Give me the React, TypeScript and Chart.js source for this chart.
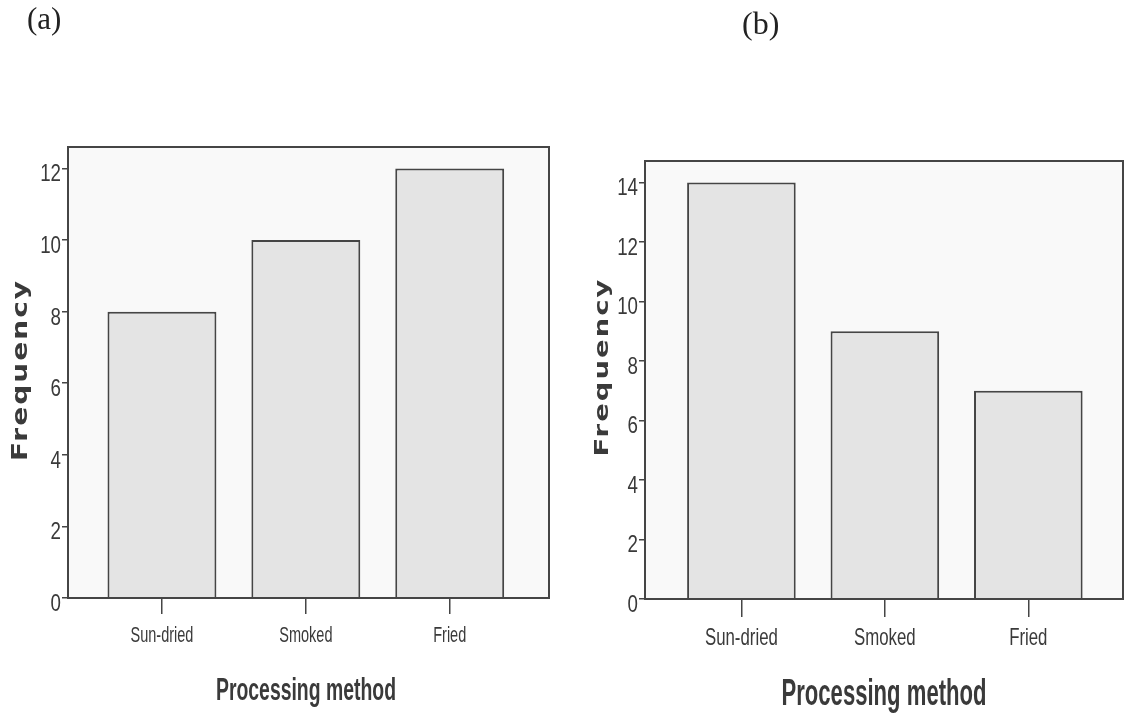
import React, { useEffect, useRef } from "react";
import { Chart, registerables } from "chart.js";

Chart.register(...registerables);

// Bar chart data: count of samples by processing method
const categories = ["Sun-dried", "Smoked", "Fried"];
const frequencyA = [8, 10, 12];
const frequencyB = [14, 9, 7];
const yTicksA = [0, 2, 4, 6, 8, 10, 12];
const yTicksB = [0, 2, 4, 6, 8, 10, 12, 14];
const panelLabels = ["(a)", "(b)"];
const xTitle = "Processing method";
const yTitle = "Frequency";

const INK = "#3a3a3a";
const LINE = "#454545";
const BAR_FILL = "#e4e4e4";
const PLOT_BG = "#f9f9f9";
const SANS = "'Liberation Sans', Arial, sans-serif";

type PanelLayout = {
  width: number;
  height: number;
  plotTop: number;
  plotRight: number;
  yAxisWidth: number;
  xAxisHeight: number;
  xMin: number;
  xMax: number;
  yMax: number;
  yTickSize: number;
  yTickSqueeze: number;
  xTickSize: number;
  xTickSqueeze: number;
  xTickLength: number;
  xLabelDrop: number;
  yTitleX: number;
  yTitleY: number;
  yTitleLen: number;
  yTitleSize: number;
  xTitleX: number;
  xTitleY: number;
  xTitleWidth: number;
  xTitleSize: number;
};

// Draws text condensed (sx < 1) or stretched (sx > 1) along its reading direction
function drawScaledText(
  ctx: CanvasRenderingContext2D,
  text: string,
  x: number,
  y: number,
  align: CanvasTextAlign,
  font: string,
  sx: number
) {
  ctx.save();
  ctx.font = font;
  ctx.translate(x, y);
  ctx.scale(sx, 1);
  ctx.textAlign = align;
  ctx.textBaseline = "alphabetic";
  ctx.fillStyle = INK;
  ctx.fillText(text, 0, 0);
  ctx.restore();
}

function drawFittedText(
  ctx: CanvasRenderingContext2D,
  text: string,
  x: number,
  y: number,
  rotation: number,
  font: string,
  targetWidth: number,
  spacing: number
) {
  ctx.save();
  ctx.font = font;
  (ctx as any).letterSpacing = `${spacing}px`;
  const w = ctx.measureText(text).width;
  ctx.translate(x, y);
  ctx.rotate(rotation);
  ctx.scale(targetWidth / w, 1);
  ctx.textAlign = "center";
  ctx.textBaseline = "alphabetic";
  ctx.fillStyle = INK;
  ctx.fillText(text, spacing / 2, 0);
  ctx.restore();
}

function BarPanel({ values, yTicks, layout }: { values: number[]; yTicks: number[]; layout: PanelLayout }) {
  const ref = useRef<HTMLCanvasElement | null>(null);

  useEffect(() => {
    const canvas = ref.current;
    if (!canvas) return;
    const p = layout;

    const framePlugin = {
      id: "plotFrame",
      beforeDraw(chart: any) {
        const { ctx, chartArea: a } = chart;
        ctx.save();
        ctx.fillStyle = "#ffffff";
        ctx.fillRect(0, 0, chart.width, chart.height);
        ctx.fillStyle = PLOT_BG;
        ctx.fillRect(a.left, a.top, a.right - a.left, a.bottom - a.top);
        ctx.restore();
      },
      afterDatasetsDraw(chart: any) {
        const { ctx, chartArea: a } = chart;
        ctx.save();
        ctx.strokeStyle = LINE;
        ctx.lineWidth = 2;
        ctx.strokeRect(a.left, a.top, a.right - a.left, a.bottom - a.top);
        ctx.restore();
      },
      afterDraw(chart: any) {
        const ctx = chart.ctx as CanvasRenderingContext2D;
        const a = chart.chartArea;
        const xs = chart.scales.x;
        const ys = chart.scales.y;

        // condensed tick labels placed on the scales' tick positions
        xs.ticks.forEach((t: any) => {
          const label = categories[Math.round(t.value)];
          if (label === undefined) return;
          drawScaledText(
            ctx,
            label,
            xs.getPixelForValue(t.value),
            a.bottom + p.xLabelDrop,
            "center",
            `${p.xTickSize}px ${SANS}`,
            p.xTickSqueeze
          );
        });
        ys.ticks.forEach((t: any) => {
          drawScaledText(
            ctx,
            String(t.value),
            a.left - 7,
            ys.getPixelForValue(t.value) + 13,
            "right",
            `${p.yTickSize}px ${SANS}`,
            p.yTickSqueeze
          );
        });

        drawFittedText(
          ctx,
          yTitle,
          p.yTitleX,
          p.yTitleY,
          -Math.PI / 2,
          `bold ${p.yTitleSize}px 'DejaVu Sans', sans-serif`,
          p.yTitleLen,
          1.5
        );
        drawFittedText(
          ctx,
          xTitle,
          p.xTitleX,
          p.xTitleY,
          0,
          `bold ${p.xTitleSize}px ${SANS}`,
          p.xTitleWidth,
          0
        );
      },
    };

    const chart = new Chart(canvas, {
      type: "bar",
      data: {
        datasets: [
          {
            data: categories.map((_, i) => ({ x: i, y: values[i] })),
            backgroundColor: BAR_FILL,
            borderColor: LINE,
            borderWidth: 2,
            borderSkipped: "bottom",
            categoryPercentage: 1,
            barPercentage: 0.757,
          },
        ],
      },
      options: {
        animation: false,
        responsive: false,
        maintainAspectRatio: false,
        devicePixelRatio: 1,
        layout: {
          padding: { top: p.plotTop, right: p.width - p.plotRight, left: 0, bottom: 0 },
        },
        plugins: {
          legend: { display: false },
          tooltip: { enabled: false },
        },
        scales: {
          x: {
            type: "linear",
            offset: false,
            min: p.xMin,
            max: p.xMax,
            afterBuildTicks: (s: any) => {
              s.ticks = categories.map((_, i) => ({ value: i }));
            },
            afterFit: (s: any) => {
              s.height = p.xAxisHeight;
            },
            ticks: { display: false, autoSkip: false },
            grid: {
              offset: false,
              drawOnChartArea: false,
              drawTicks: true,
              tickLength: p.xTickLength,
              color: LINE,
              lineWidth: 1.5,
            },
            border: { display: true, color: LINE, width: 2 },
          },
          y: {
            type: "linear",
            min: 0,
            max: p.yMax,
            afterBuildTicks: (s: any) => {
              s.ticks = yTicks.map((v) => ({ value: v }));
            },
            afterFit: (s: any) => {
              s.width = p.yAxisWidth;
            },
            ticks: { display: false },
            grid: {
              drawOnChartArea: false,
              drawTicks: true,
              tickLength: 6,
              color: LINE,
              lineWidth: 1.5,
            },
            border: { display: true, color: LINE, width: 2 },
          },
        },
      },
      plugins: [framePlugin],
    } as any);

    return () => chart.destroy();
  }, [values, yTicks, layout]);

  return (
    <canvas
      ref={ref}
      width={layout.width}
      height={layout.height}
      style={{ width: layout.width, height: layout.height, display: "block" }}
    />
  );
}

const layoutA: PanelLayout = {
  width: 562,
  height: 715,
  plotTop: 147,
  plotRight: 549,
  yAxisWidth: 68,
  xAxisHeight: 117,
  xMin: -0.653,
  xMax: 2.69,
  yMax: 12.6,
  yTickSize: 24,
  yTickSqueeze: 0.78,
  xTickSize: 22,
  xTickSqueeze: 0.66,
  xTickLength: 16,
  xLabelDrop: 44,
  yTitleX: 27,
  yTitleY: 371,
  yTitleLen: 182,
  yTitleSize: 21,
  xTitleX: 306,
  xTitleY: 700,
  xTitleWidth: 180,
  xTitleSize: 32,
};

const layoutB: PanelLayout = {
  width: 562,
  height: 715,
  plotTop: 161,
  plotRight: 561,
  yAxisWidth: 83,
  xAxisHeight: 116,
  xMin: -0.672,
  xMax: 2.66,
  yMax: 14.72,
  yTickSize: 24,
  yTickSqueeze: 0.78,
  xTickSize: 24,
  xTickSqueeze: 0.7,
  xTickLength: 18,
  xLabelDrop: 46,
  yTitleX: 46,
  yTitleY: 368,
  yTitleLen: 179,
  yTitleSize: 20,
  xTitleX: 322,
  xTitleY: 705,
  xTitleWidth: 205,
  xTitleSize: 37,
};

export default function App() {
  const labelStyle: React.CSSProperties = {
    position: "absolute",
    fontFamily: "'Liberation Serif', 'DejaVu Serif', serif",
    lineHeight: 1,
    color: "#222",
    margin: 0,
  };
  return (
    <div
      style={{
        position: "absolute",
        left: 0,
        top: 0,
        width: 1124,
        height: 715,
        background: "#ffffff",
        overflow: "hidden",
      }}
    >
      <div style={{ position: "absolute", left: 0, top: 0 }}>
        <BarPanel values={frequencyA} yTicks={yTicksA} layout={layoutA} />
      </div>
      <div style={{ position: "absolute", left: 562, top: 0 }}>
        <BarPanel values={frequencyB} yTicks={yTicksB} layout={layoutB} />
      </div>
      <div style={{ ...labelStyle, left: 27, top: 3, fontSize: 31 }}>{panelLabels[0]}</div>
      <div style={{ ...labelStyle, left: 742, top: 7, fontSize: 32 }}>{panelLabels[1]}</div>
    </div>
  );
}
